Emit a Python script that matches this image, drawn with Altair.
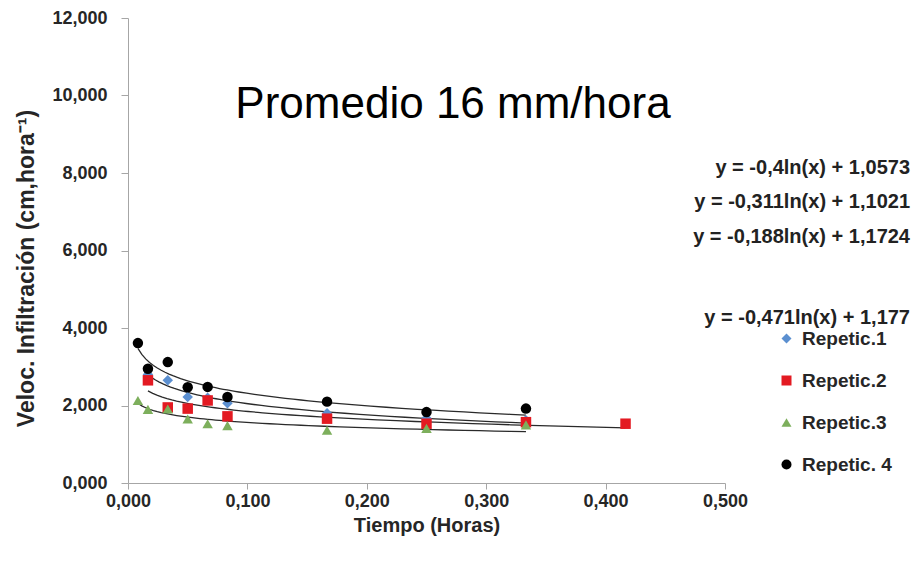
import altair as alt
import pandas as pd

# Time (hours) and infiltration velocity (cm/hora)
t_rep1 = [0.0167, 0.0333, 0.05, 0.0667, 0.0833, 0.1667, 0.25, 0.3333]
v_rep1 = [2.80, 2.65, 2.22, 2.20, 2.06, 1.80, 1.67, 1.62]

t_rep2 = [0.0167, 0.0333, 0.05, 0.0667, 0.0833, 0.1667, 0.25, 0.3333, 0.4167]
v_rep2 = [2.65, 1.95, 1.92, 2.13, 1.72, 1.66, 1.53, 1.57, 1.53]

t_rep3 = [0.0083, 0.0167, 0.0333, 0.05, 0.0667, 0.0833, 0.1667, 0.25, 0.3333]
v_rep3 = [2.13, 1.90, 1.91, 1.65, 1.53, 1.48, 1.36, 1.41, 1.50]

t_rep4 = [0.0083, 0.0167, 0.0333, 0.05, 0.0667, 0.0833, 0.1667, 0.25, 0.3333]
v_rep4 = [3.61, 2.95, 3.12, 2.47, 2.48, 2.22, 2.10, 1.83, 1.92]

series = ["Repetic.1", "Repetic.2", "Repetic.3", "Repetic. 4"]
colors = ["#5B8FD0", "#E31A22", "#7DAF5C", "#000000"]
shapes = ["diamond", "square", "triangle-up", "circle"]

equations = [
    "y = -0,4ln(x) + 1,0573",
    "y = -0,311ln(x) + 1,1021",
    "y = -0,188ln(x) + 1,1724",
    "y = -0,471ln(x) + 1,177",
]
title_text = "Promedio 16 mm/hora"
x_ticks = [0, 0.1, 0.2, 0.3, 0.4, 0.5]
y_ticks = [0, 2, 4, 6, 8, 10, 12]

rows = []
for name, ts, vs in zip(series, [t_rep1, t_rep2, t_rep3, t_rep4],
                        [v_rep1, v_rep2, v_rep3, v_rep4]):
    for t, v in zip(ts, vs):
        rows.append({"serie": name, "t": t, "v": v})
df = pd.DataFrame(rows)

FONT = "Liberation Sans"
label_expr = "replace(format(datum.value, '.3f'), '.', ',')"

TOP = 10
x_enc = alt.X(
    "t:Q",
    scale=alt.Scale(domain=[0, 0.5], nice=False),
    axis=alt.Axis(
        values=x_ticks, labelExpr=label_expr, title="Tiempo (Horas)",
        grid=False, tickSize=6, labelPadding=3, labelFlush=False,
        labelOverlap=False, titleFontSize=20,
        titleY=42, titleBaseline="middle",
    ),
)
y_enc = alt.Y(
    "v:Q",
    scale=alt.Scale(domain=[0, 12], nice=False),
    axis=alt.Axis(
        values=y_ticks, labelExpr=label_expr,
        title="Veloc. Infiltración (cm,hora⁻¹)",
        grid=False, tickSize=7, labelPadding=14, labelFlush=False,
        labelOverlap=False, titleFontSize=23,
        titleX=-102, titleY=250, titleAlign="center", titleBaseline="middle",
        titleAngle=270,
    ),
)

points = alt.Chart(df).mark_point(filled=True, opacity=1, size=110).encode(
    x=x_enc,
    y=y_enc,
    color=alt.Color("serie:N", scale=alt.Scale(domain=series, range=colors),
                    legend=alt.Legend(title=None, orient="none",
                                      legendX=649, legendY=311)),
    shape=alt.Shape("serie:N", scale=alt.Scale(domain=series, range=shapes)),
    order=alt.Order("order:Q"),
).transform_calculate(order="indexof(['Repetic.1','Repetic.2','Repetic.3','Repetic. 4'], datum.serie)")

lines = alt.Chart(df).transform_regression(
    "t", "v", groupby=["serie"], method="log"
).mark_line(color="#2a2a2a", strokeWidth=1.3).encode(
    x="t:Q", y="v:Q", detail="serie:N"
)

title_mark = alt.Chart(pd.DataFrame({"txt": [title_text]})).mark_text(
    font=FONT, fontSize=44, align="center", baseline="alphabetic", color="#000000"
).encode(x=alt.value(325), y=alt.value(100), text="txt:N")

eq_y = [150, 184, 219, 300]
eq_layers = []
for eq, yy in zip(equations, eq_y):
    eq_layers.append(
        alt.Chart(pd.DataFrame({"txt": [eq]})).mark_text(
            font=FONT, fontSize=20, fontWeight="bold", align="right",
            baseline="middle", color="#222222"
        ).encode(x=alt.value(782), y=alt.value(yy), text="txt:N")
    )

chart = alt.layer(lines, points, title_mark, *eq_layers).properties(
    width=597, height=465,
    autosize=alt.AutoSizeParams(type="none"),
    padding={"left": 120, "top": TOP, "right": 186, "bottom": 72},
    background="white",
).configure_view(stroke=None).configure_axis(
    domainColor="#a6a6a6", tickColor="#a6a6a6",
    labelFont=FONT, labelFontSize=18, labelFontWeight="bold", labelColor="#262626",
    titleFont=FONT, titleFontWeight="bold", titleColor="#262626",
).configure_legend(
    labelFont=FONT, labelFontSize=19, labelFontWeight="bold", labelColor="#262626",
    rowPadding=22, symbolSize=100, labelOffset=6, symbolStrokeWidth=0,
)

chart.save("out.html", embed_options={"renderer": "svg", "actions": False})
